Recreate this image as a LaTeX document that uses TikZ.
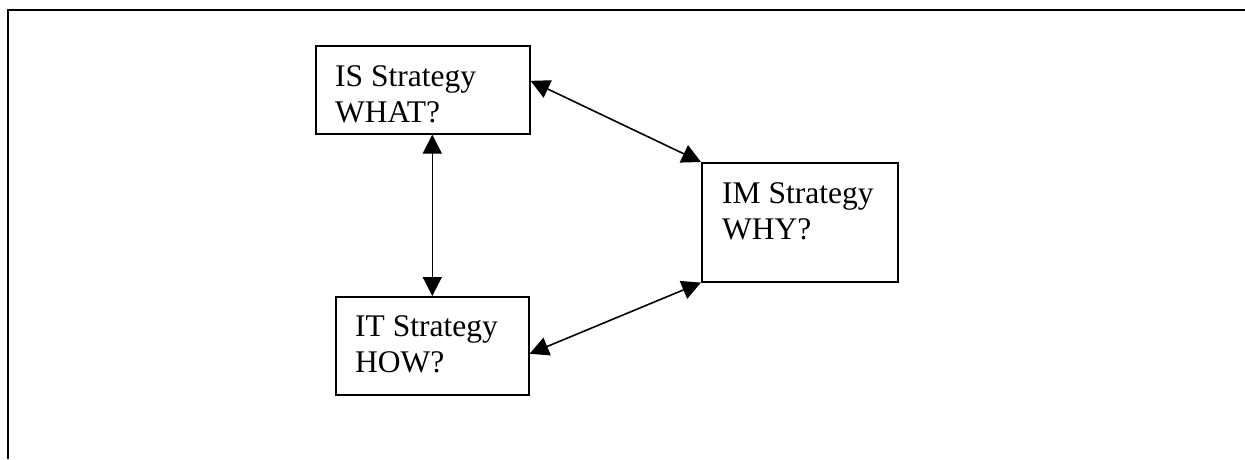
\documentclass[tikz,border=0pt]{standalone}
\usepackage{fontspec}
\setmainfont{Liberation Serif}
\usetikzlibrary{positioning,calc,arrows.meta}
\begin{document}
\begin{tikzpicture}[x=1pt, y=-1pt,
  >={Triangle[length=19pt,width=19pt]},
  box/.style={draw, line width=1.6pt, anchor=north west, inner sep=0pt},
  lbl/.style={anchor=north west, inner sep=0pt, align=left, font=\fontsize{31.5}{36.7}\selectfont},
  link/.style={<->, line width=1.6pt}]
\useasboundingbox (0,0) rectangle (1245,459);
\draw[line width=2.6pt] (8,459) -- (8,10) -- (1245,10);

\node[box, minimum width=214pt, minimum height=88pt] (is) at (315,45) {};
\node[box, minimum width=196pt, minimum height=119pt] (im) at (701,162) {};
\node[box, minimum width=193pt, minimum height=98pt] (it) at (335,296) {};

\node[lbl, below right=20pt and 20pt of is.north west] (is text) {IS Strategy\\WHAT?};
\node[lbl, below right=20pt and 21pt of im.north west] (im text) {IM Strategy\\WHY?};
\node[lbl, below right=19pt and 20pt of it.north west] (it text) {IT Strategy\\HOW?};

\draw[link] (it.north) -- (it.north |- is.south);
\draw[link] ($(is.north east)!0.4!(is.south east)$) -- (im.north west);
\draw[link] ($(it.north east)!0.58!(it.south east)$) -- (im.south west);
\end{tikzpicture}
\end{document}
